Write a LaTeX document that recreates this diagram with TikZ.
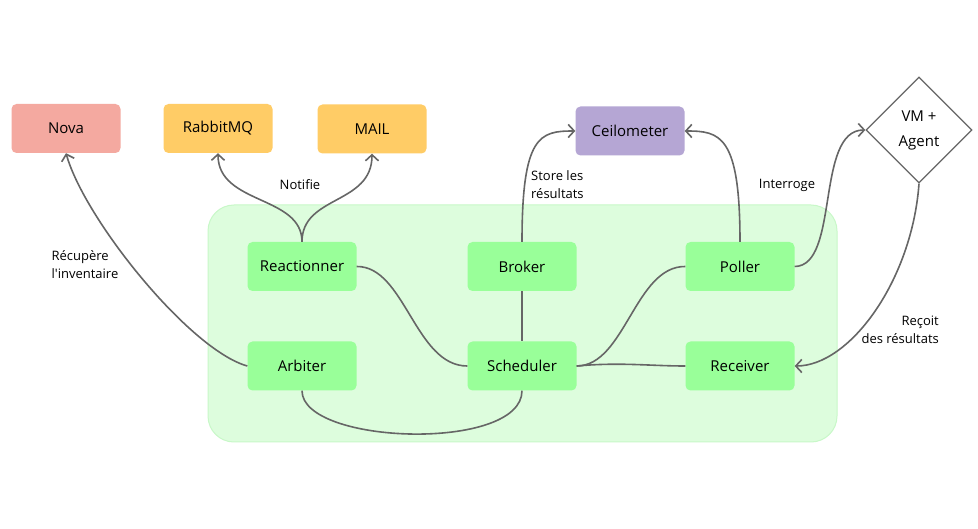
\documentclass[tikz,border=0pt]{standalone}
\usepackage{fontspec}
\setmainfont{Open Sans}
\usetikzlibrary{arrows.meta,shapes.geometric}
\definecolor{novac}{HTML}{F4A9A0}
\definecolor{orangec}{HTML}{FFCC66}
\definecolor{ceilc}{HTML}{B5A6D4}
\definecolor{greenc}{HTML}{99FF99}
\definecolor{zonec}{HTML}{DDFDDD}
\definecolor{zonedraw}{HTML}{C8F8C8}
\definecolor{linec}{HTML}{666666}
\tikzset{
  box/.style={rounded corners=5pt, minimum width=109pt, minimum height=49pt, inner sep=0pt, font=\fontsize{15}{17}\selectfont},
  gbox/.style={box, fill=greenc},
  conn/.style={draw=linec, line width=1.6pt},
  arr/.style={conn, -{Straight Barb[length=6pt,width=13pt,line width=1.6pt]}},
  lbl/.style={font=\fontsize{13}{18}\selectfont, inner sep=0pt}
}
\begin{document}
\begin{tikzpicture}[x=1pt,y=-1pt]
\useasboundingbox (0,0) rectangle (978,529);
\fill[white] (0,0) rectangle (978,529);
\draw[fill=zonec, draw=zonedraw, line width=1pt, rounded corners=26pt] (208,205) rectangle (837,442);

\node[box, fill=novac] (nova) at (66,128.5) {Nova};
\node[box, fill=orangec] (rabbit) at (218,128.5) {RabbitMQ};
\node[box, fill=orangec] (mail) at (372,129) {MAIL};
\node[box, fill=ceilc] (ceil) at (630,131) {Ceilometer};
\node[diamond, draw=linec, line width=1.3pt, fill=white, minimum width=106pt, minimum height=106pt, inner sep=0pt, align=center, font=\fontsize{15}{25}\selectfont] (vm) at (919,130) {VM +\\Agent};

\node[gbox] (react) at (302,266.5) {Reactionner};
\node[gbox] (broker) at (522,266.5) {Broker};
\node[gbox] (poller) at (740,266.5) {Poller};
\node[gbox] (arb) at (302,366) {Arbiter};
\node[gbox] (sched) at (522,366) {Scheduler};
\node[gbox] (recv) at (740,366) {Receiver};

\draw[arr] (arb.west) .. controls (190,350) and (85,220) .. (nova.south);
\draw[arr] (react.north) .. controls (302,195) and (218,205) .. (rabbit.south);
\draw[arr] (react.north) .. controls (302,195) and (372,205) .. (mail.south);
\draw[arr] (broker.north) .. controls (522,135) and (540,131) .. (ceil.west);
\draw[arr] (poller.north) .. controls (740,135) and (720,131) .. (ceil.east);
\draw[arr] (poller.east) .. controls (840,266) and (815,130) .. (vm.west);
\draw[arr] (vm.south) .. controls (912,280) and (850,366) .. (recv.east);

\draw[conn] (react.east) .. controls (405,266) and (415,366) .. (sched.west);
\draw[conn] (broker.south) -- (sched.north);
\draw[conn] (poller.west) .. controls (635,266) and (625,366) .. (sched.east);
\draw[conn] (sched.east) .. controls (620,362) and (650,366) .. (recv.west);
\draw[conn] (arb.south) .. controls (302,445) and (522,452) .. (sched.south);

\node[lbl, align=left] (l1) at (85,265) {Récupère\\l\textquotesingle inventaire};
\node[lbl] (l2) at (300,185) {Notifie};
\node[lbl, align=left, anchor=west] (l3) at (531,185) {Store les\\résultats};
\node[lbl] (l4) at (787,185) {Interroge};
\node[lbl, align=right, anchor=east] (l5) at (939,330) {Reçoit\\des résultats};
\end{tikzpicture}
\end{document}
